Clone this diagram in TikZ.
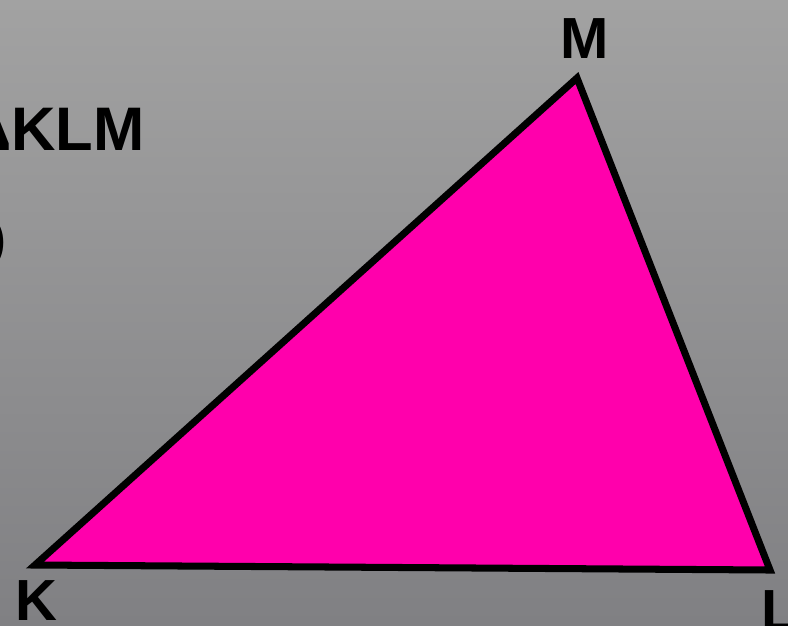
\documentclass[tikz,border=0pt]{standalone}
\usepackage{fontspec}
\setmainfont{Liberation Sans}
\usepackage{tikz}
\usetikzlibrary{calc}
\usetikzlibrary{positioning}
\definecolor{bgtop}{RGB}{162,162,162}
\definecolor{bgbot}{RGB}{128,128,131}
\definecolor{trifill}{RGB}{255,0,172}

\begin{document}
\begin{tikzpicture}[thick,
	  vertex label/.style={font=\bfseries\fontsize{16.5}{16.5}\selectfont, inner sep=0pt},
	  side text/.style={font=\bfseries\fontsize{17.5}{17.5}\selectfont, inner sep=0pt},
	  tri line/.style={line width=2pt, line join=miter, fill=trifill, draw=black}]

	 \useasboundingbox (0,0) rectangle (7.88,6.25);
	 \clip (0,0) rectangle (7.88,6.25);
	 \shade[top color=bgtop, bottom color=bgbot] (0,0) rectangle (7.88,6.25);

	 \coordinate (K) at (0.35,0.60);
	 \coordinate (L) at (7.70,0.55);
	 \coordinate (M) at (5.77,5.47);

	 \draw[tri line] (K) -- (L) -- (M) -- cycle;

	 \node[vertex label, anchor=base] (mM) at (5.85,5.67) {M};
	 \node[vertex label, anchor=base] (mK) at (0.36,0.05) {K};
	 \node[vertex label, anchor=base] (mL) at (7.79,-0.05) {L};

	 \node[side text, anchor=base east] (name) at (1.46,4.75) {ΔKLM};
	 \node[side text, font=\fontsize{16}{16}\selectfont, anchor=base east] (rest) at (0.09,3.68) {)};
\end{tikzpicture}
\end{document}
